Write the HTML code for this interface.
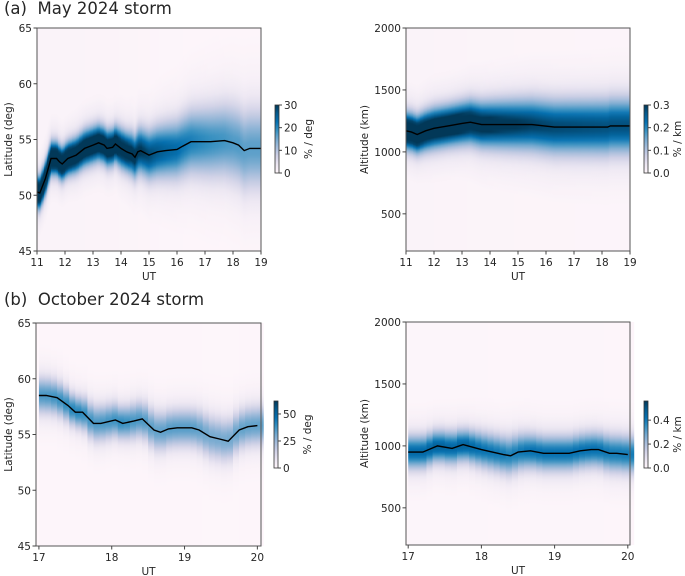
<!DOCTYPE html>
<html><head><meta charset="utf-8">
<style>
html,body{margin:0;padding:0;background:#fff;}
svg{display:block;font-family:"DejaVu Sans","Liberation Sans",sans-serif;}
</style></head>
<body>
<svg id="fig" width="685" height="576" viewBox="0 0 685 576" xmlns="http://www.w3.org/2000/svg">
<defs id="defs"></defs>
<text x="4" y="14" font-size="16.5" fill="#262626">(a)&#160;&#160;May 2024 storm</text>
<text x="4" y="305" font-size="16.5" fill="#262626">(b)&#160;&#160;October 2024 storm</text>
</svg>
<script>
// Panel (a) latitude centre line
const aLatTimes = [11.0,11.1,11.3,11.5,11.7,11.8,11.9,12.1,12.4,12.7,13.0,13.2,13.4,13.5,13.7,13.8,14.0,14.2,14.4,14.5,14.6,14.7,15.0,15.3,15.6,16.0,16.2,16.5,17.2,17.7,18.0,18.2,18.4,18.6,19.0];
const aLatCenter = [50.3,50.2,51.5,53.3,53.3,53.0,52.8,53.3,53.6,54.2,54.5,54.7,54.5,54.2,54.3,54.6,54.2,53.9,53.7,53.4,53.9,54.0,53.6,53.9,54.0,54.1,54.4,54.8,54.8,54.9,54.7,54.5,54.0,54.2,54.2];
const aLatSigma = [0.9,0.9,0.9,0.9,0.9,0.9,0.9,0.9,0.95,1.0,1.0,1.0,1.0,1.0,1.0,1.0,1.1,1.1,1.2,1.2,1.3,1.3,1.4,1.5,1.6,1.7,1.8,1.9,2.1,2.2,2.3,2.3,2.4,2.4,2.4];
// Panel (a) altitude centre line
const aAltTimes = [11.0,11.2,11.4,11.7,12.0,12.5,13.0,13.3,13.7,14.5,15.5,16.3,18.2,18.3,19.0];
const aAltCenter = [1170,1160,1140,1170,1190,1210,1230,1240,1220,1220,1220,1200,1200,1210,1210];
const aAltSigma = [90,90,90,95,100,100,105,110,115,125,135,140,145,145,145];
// Panel (b) latitude centre line
const bLatTimes = [17.0,17.1,17.25,17.4,17.5,17.6,17.75,17.85,18.05,18.15,18.3,18.42,18.58,18.67,18.78,18.9,19.1,19.2,19.35,19.48,19.6,19.75,19.87,20.0];
const bLatCenter = [58.5,58.5,58.3,57.6,57.0,57.0,56.0,56.0,56.3,56.0,56.2,56.4,55.4,55.2,55.5,55.6,55.6,55.4,54.8,54.6,54.4,55.4,55.7,55.8];
const bLatSigma = [1.1,1.1,1.05,1.0,0.95,1.0,1.1,1.1,1.05,1.0,1.1,1.1,1.2,1.2,1.15,1.15,1.15,1.2,1.3,1.3,1.3,1.2,1.2,1.2];
// Panel (b) altitude centre line
const bAltTimes = [17.0,17.2,17.4,17.6,17.75,18.0,18.3,18.4,18.5,18.67,18.85,19.2,19.35,19.5,19.6,19.75,19.85,20.0];
const bAltCenter = [950,950,1000,980,1010,970,930,920,950,960,940,940,960,970,970,940,940,930];
const bAltSigma = [90,90,85,90,85,95,100,105,100,95,95,95,95,95,95,100,100,100];

const latTicks = [45,50,55,60,65];
const altTicks = [500,1000,1500,2000];
const aUtTicks = [11,12,13,14,15,16,17,18,19];
const bUtTicks = [17,18,19,20];
const cbTicksALat = [0,10,20,30];
const cbTicksAAlt = ["0.0","0.1","0.2","0.3"];
const cbTicksBLat = [0,25,50];
const cbTicksBAlt = ["0.0","0.2","0.4"];

const CMAP = ["#fff7fb","#ece7f2","#d0d1e6","#a6bddb","#74a9cf","#3690c0","#0570b0","#045a8d","#023858"];
function hex(c){return [parseInt(c.slice(1,3),16),parseInt(c.slice(3,5),16),parseInt(c.slice(5,7),16)];}
function cmap(t){t=Math.max(0,Math.min(1,t));const p=t*(CMAP.length-1);const i=Math.min(CMAP.length-2,Math.floor(p));const f=p-i;const a=hex(CMAP[i]),b=hex(CMAP[i+1]);
 return "rgb("+a.map((v,k)=>Math.round(v+(b[k]-v)*f)).join(",")+")";}
function interp(ts,vs,t){if(t<=ts[0])return vs[0];for(let i=1;i<ts.length;i++){if(t<=ts[i]){const f=(t-ts[i-1])/(ts[i]-ts[i-1]);return vs[i-1]+f*(vs[i]-vs[i-1]);}}return vs[vs.length-1];}

const NS="http://www.w3.org/2000/svg";
const svg=document.getElementById('fig');const defs=document.getElementById('defs');
function el(tag,attrs,parent){const e=document.createElementNS(NS,tag);for(const k in attrs)e.setAttribute(k,attrs[k]);(parent||svg).appendChild(e);return e;}
let gid=0;

function panel(P){
 const g=el('g',{});
 
 
 const sx=v=>P.x0+(v-P.xmin)/(P.xmax-P.xmin)*P.w;
 const sy=v=>P.y0+P.h-(v-P.ymin)/(P.ymax-P.ymin)*P.h;
 const bg=el('rect',{x:P.x0,y:P.y0,width:P.w,height:P.h,fill:CMAP[0]},g);
 
 
 const t0=P.times[0],t1=P.times[P.times.length-1];
 for(let t=t0;t<t1-1e-9;t+=P.dt){
  const tm=t+P.dt/2;
  const c=interp(P.times,P.center,tm),s=interp(P.times,P.sigma,tm);
  const peak=100/(s*Math.sqrt(2*Math.PI));
  const id='cg'+(gid++);
  const lg=el('linearGradient',{id:id,gradientUnits:'userSpaceOnUse',x1:0,x2:0,y1:P.y0,y2:P.y0+P.h},defs);
  for(let k=-4.5;k<=4.5001;k+=0.25){
   const v=c-k*s;const off=(sy(v)-P.y0)/P.h;
   if(off<0||off>1)continue;
   const val=peak*(0.88*Math.exp(-0.5*k*k)+0.12*Math.exp(-0.5*k*k/6));
   el('stop',{offset:off.toFixed(4),'stop-color':cmap(val/P.cbmax)},lg);
  }
  const r=el('rect',{x:sx(t).toFixed(2),y:P.y0,width:(sx(t+P.dt)-sx(t)+0.4).toFixed(2),height:P.h,fill:'url(#'+id+')'},g);
  
  
 }
 const pts=P.times.map((t,i)=>sx(t).toFixed(1)+','+sy(P.center[i]).toFixed(1)).join(' ');
 const ln=el('polyline',{points:pts,fill:'none',stroke:'#000','stroke-width':1.4},g);
 
 
 const fr=el('rect',{x:P.x0,y:P.y0,width:P.w,height:P.h,fill:'none',stroke:'#555','stroke-width':1},g);
 
 
 P.xticks.forEach(v=>{const x=sx(v);el('line',{x1:x,x2:x,y1:P.y0+P.h,y2:P.y0+P.h+3.5,stroke:'#444'},g);
  const tx=el('text',{x:x,y:P.y0+P.h+15,'font-size':10.5,'text-anchor':'middle',fill:'#262626'},g);tx.textContent=v;
  
  });
 P.yticks.forEach(v=>{const y=sy(v);el('line',{x1:P.x0,x2:P.x0-3.5,y1:y,y2:y,stroke:'#444'},g);
  const tx=el('text',{x:P.x0-5,y:y+4,'font-size':10.5,'text-anchor':'end',fill:'#262626'},g);tx.textContent=v;
  
  });
 const xl=el('text',{x:P.x0+P.w/2,y:P.y0+P.h+29,'font-size':10.5,'text-anchor':'middle',fill:'#262626'},g);xl.textContent='UT';
 
 
 const yl=el('text',{x:0,y:0,'font-size':10.5,'text-anchor':'middle',fill:'#262626',transform:'translate('+P.ylx+','+(P.y0+P.h/2)+') rotate(-90)'},g);yl.textContent=P.ylabel;
 
 
 const cid='cb'+(gid++);
 const cg=el('linearGradient',{id:cid,x1:0,x2:0,y1:1,y2:0},defs);
 for(let i=0;i<=16;i++)el('stop',{offset:i/16,'stop-color':cmap(i/16)},cg);
 const cb=el('rect',{x:P.cbx,y:P.cby,width:4,height:P.cbh,fill:'url(#'+cid+')',stroke:'#333','stroke-width':0.8},g);
 
 
 P.cbticks.forEach(v=>{const y=P.cby+P.cbh-parseFloat(v)/P.cbmax*P.cbh;
  el('line',{x1:P.cbx+4,x2:P.cbx+7,y1:y,y2:y,stroke:'#444'},g);
  const tx=el('text',{x:P.cbx+9,y:y+4,'font-size':10.5,fill:'#262626'},g);tx.textContent=v;
  
  });
 const cl=el('text',{x:0,y:0,'font-size':10.5,'text-anchor':'middle',fill:'#262626',transform:'translate('+(P.cbx+37)+','+(P.cby+P.cbh/2)+') rotate(-90)'},g);cl.textContent=P.cblabel;
 
 
}

panel({name:'panel-a-latitude',x0:37,y0:28,w:224,h:223,xmin:11,xmax:19,ymin:45,ymax:65,times:aLatTimes,center:aLatCenter,sigma:aLatSigma,dt:0.05,
 xticks:aUtTicks,yticks:latTicks,ylabel:'Latitude (deg)',ylx:12,cbx:275,cby:105,cbh:68,cbmax:30,cbticks:cbTicksALat,cblabel:'% / deg'});
panel({name:'panel-a-altitude',x0:406,y0:28,w:224,h:223,xmin:11,xmax:19,ymin:200,ymax:2000,times:aAltTimes,center:aAltCenter,sigma:aAltSigma,dt:0.05,
 xticks:aUtTicks,yticks:altTicks,ylabel:'Altitude (km)',ylx:368,cbx:644,cby:105,cbh:68,cbmax:0.3,cbticks:cbTicksAAlt,cblabel:'% / km'});
panel({name:'panel-b-latitude',x0:36,y0:323,w:225,h:223,xmin:16.96,xmax:20.05,ymin:45,ymax:65,times:bLatTimes,center:bLatCenter,sigma:bLatSigma,dt:0.0833,
 xticks:bUtTicks,yticks:latTicks,ylabel:'Latitude (deg)',ylx:12,cbx:274,cby:401,cbh:67,cbmax:62,cbticks:cbTicksBLat,cblabel:'% / deg'});
panel({name:'panel-b-altitude',x0:406,y0:322,w:224,h:223,xmin:16.97,xmax:20.03,ymin:200,ymax:2000,times:bAltTimes,center:bAltCenter,sigma:bAltSigma,dt:0.0833,
 xticks:bUtTicks,yticks:altTicks,ylabel:'Altitude (km)',ylx:368,cbx:644,cby:401,cbh:67,cbmax:0.56,cbticks:cbTicksBAlt,cblabel:'% / km'});
</script>
</body></html>
